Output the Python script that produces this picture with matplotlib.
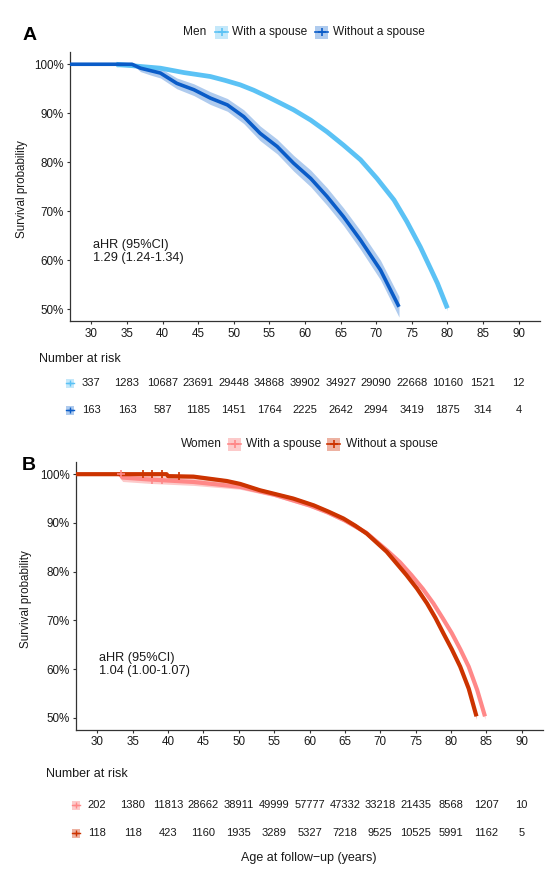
import matplotlib
matplotlib.use('Agg')
import matplotlib.pyplot as plt
from matplotlib.patches import Rectangle
from matplotlib.lines import Line2D
from matplotlib.ticker import FuncFormatter
import matplotlib.transforms as mtransforms

plt.rcParams['font.family'] = ['Liberation Sans', 'DejaVu Sans']

# ---------------- data ----------------
group_labels = ["With a spouse", "Without a spouse"]

# Men, with a spouse
ages_mw = [33.5, 35.0, 37.3, 39.7, 43.0, 46.7, 48.8, 50.9, 52.8, 54.7, 56.5, 58.4, 60.8, 63.1, 65.4, 67.8, 70.1, 72.5, 74.3, 76.2, 77.6, 78.6, 80.0]
surv_mw = [1.000, 0.998, 0.995, 0.992, 0.983, 0.975, 0.967, 0.958, 0.947, 0.934, 0.921, 0.907, 0.886, 0.862, 0.835, 0.805, 0.767, 0.723, 0.679, 0.627, 0.584, 0.553, 0.502]
ci_mw = [0.006, 0.004, 0.003, 0.003, 0.002, 0.002, 0.002, 0.002, 0.002, 0.002, 0.002, 0.002, 0.002, 0.002, 0.002, 0.002, 0.003, 0.003, 0.003, 0.003, 0.004, 0.004, 0.005]

# Men, without a spouse
ages_mo = [27.0, 35.7, 36.9, 38.3, 39.7, 42.0, 44.4, 46.7, 49.1, 51.4, 53.7, 56.1, 58.4, 60.8, 63.1, 65.4, 67.8, 70.6, 73.2]
surv_mo = [1.000, 1.000, 0.992, 0.987, 0.982, 0.961, 0.948, 0.931, 0.917, 0.893, 0.859, 0.832, 0.798, 0.767, 0.730, 0.689, 0.641, 0.580, 0.505]
ci_mo = [0.000, 0.000, 0.007, 0.009, 0.010, 0.011, 0.012, 0.013, 0.013, 0.014, 0.015, 0.015, 0.016, 0.017, 0.018, 0.018, 0.019, 0.020, 0.021]

# Women, with a spouse
ages_ww = [33.2, 33.6, 37.5, 43.6, 50.2, 55.0, 60.0, 62.5, 65.0, 68.0, 71.0, 72.8, 74.4, 76.0, 77.5, 78.8, 80.1, 81.3, 82.5, 83.7, 84.8]
surv_ww = [1.000, 0.993, 0.989, 0.984, 0.974, 0.958, 0.936, 0.922, 0.905, 0.880, 0.843, 0.819, 0.793, 0.765, 0.735, 0.705, 0.674, 0.641, 0.605, 0.557, 0.503]
ci_ww = [0.008, 0.008, 0.008, 0.007, 0.005, 0.004, 0.004, 0.004, 0.004, 0.004, 0.004, 0.004, 0.004, 0.004, 0.004, 0.005, 0.005, 0.005, 0.005, 0.006, 0.006]

# Women, without a spouse
ages_wo = [27.0, 39.8, 40.0, 43.6, 48.3, 50.2, 53.0, 57.7, 60.6, 62.7, 64.8, 66.5, 68.1, 70.9, 73.7, 75.2, 76.6, 77.8, 78.9, 80.1, 81.3, 82.5, 83.6]
surv_wo = [1.000, 1.000, 0.996, 0.995, 0.986, 0.980, 0.967, 0.950, 0.936, 0.923, 0.909, 0.894, 0.878, 0.841, 0.793, 0.765, 0.735, 0.705, 0.674, 0.641, 0.605, 0.560, 0.503]
ci_wo = [0.000, 0.000, 0.004, 0.004, 0.004, 0.004, 0.004, 0.004, 0.004, 0.004, 0.004, 0.004, 0.004, 0.004, 0.004, 0.005, 0.005, 0.005, 0.005, 0.005, 0.006, 0.006, 0.006]

# visible censor marks at the start of the women's curves
cens_ww_age = [33.4, 37.7, 39.1]
cens_ww_surv = [1.000, 0.989, 0.989]
cens_wo_age = [36.5, 37.7, 39.1, 41.5]
cens_wo_surv = [1.000, 1.000, 1.000, 0.996]

risk_times = [30, 35, 40, 45, 50, 55, 60, 65, 70, 75, 80, 85, 90]
risk_men_with = [337, 1283, 10687, 23691, 29448, 34868, 39902, 34927, 29090, 22668, 10160, 1521, 12]
risk_men_without = [163, 163, 587, 1185, 1451, 1764, 2225, 2642, 2994, 3419, 1875, 314, 4]
risk_women_with = [202, 1380, 11813, 28662, 38911, 49999, 57777, 47332, 33218, 21435, 8568, 1207, 10]
risk_women_without = [118, 118, 423, 1160, 1935, 3289, 5327, 7218, 9525, 10525, 5991, 1162, 5]

ahr_men = "aHR (95%CI)\n1.29 (1.24-1.34)"
ahr_women = "aHR (95%CI)\n1.04 (1.00-1.07)"

# ---------------- styling ----------------
C_MW, F_MW = '#5BC2F5', '#C4E8FA'
C_MO, F_MO = '#0A5CC8', '#AFCBEE'
C_WW, F_WW = '#FF8888', '#FCCACA'
C_WO, F_WO = '#CC3300', '#EDB2A2'
TXT = '#1a1a1a'
AX = '#333333'

W, H = 550, 869
fig = plt.figure(figsize=(5.5, 8.69), dpi=100)


def fx(x):
    return x / W


def fy(y):
    return 1 - y / H


def make_axes(left, right, top, bottom):
    ax = fig.add_axes([fx(left), fy(bottom), (right - left) / W, (bottom - top) / H])
    ax.set_xlim(27, 93)
    ax.set_ylim(0.475, 1.025)
    ax.set_xticks(risk_times)
    ax.set_yticks([0.5, 0.6, 0.7, 0.8, 0.9, 1.0])
    ax.yaxis.set_major_formatter(FuncFormatter(lambda v, p: f"{int(round(v * 100))}%"))
    for s in ['top', 'right']:
        ax.spines[s].set_visible(False)
    for s in ['left', 'bottom']:
        ax.spines[s].set_color(AX)
        ax.spines[s].set_linewidth(0.9)
    ax.tick_params(axis='both', length=2.5, width=0.8, color=AX, labelsize=8.4,
                   labelcolor=TXT, pad=2)
    return ax


def draw_curve(ax, ages, surv, ci, color, fill, lw):
    lo = [s - c for s, c in zip(surv, ci)]
    hi = [min(s + c, 1.0) for s, c in zip(surv, ci)]
    ax.fill_between(ages, lo, hi, color=fill, lw=0, zorder=1)
    ax.plot(ages, surv, color=color, lw=lw, solid_capstyle='butt',
            solid_joinstyle='round', zorder=3)


def legend_row(y, title, title_x, entries):
    fig.text(fx(title_x), fy(y), title, fontsize=8.6, color=TXT, ha='left', va='center')
    for (px, tx, label, lc, fc) in entries:
        w, h = 13, 13
        fig.add_artist(Rectangle((fx(px), fy(y + h / 2)), w / W, h / H,
                                 transform=fig.transFigure, facecolor=fc, edgecolor='none'))
        fig.add_artist(Line2D([fx(px), fx(px + w)], [fy(y), fy(y)], transform=fig.transFigure,
                              color=lc, lw=1.2))
        fig.add_artist(Line2D([fx(px + w / 2)], [fy(y)], transform=fig.transFigure,
                              color=lc, marker='+', markersize=6, mew=1.2, lw=0))
        fig.text(fx(tx), fy(y), label, fontsize=8.6, color=TXT, ha='left', va='center')


def risk_table(ax, title_x, title_y, rows, key_x):
    tr = mtransforms.blended_transform_factory(ax.transData, fig.transFigure)
    fig.text(fx(title_x), fy(title_y), "Number at risk", fontsize=9.0, color=TXT,
             ha='left', va='center')
    for (yy, values, lc, fc) in rows:
        w, h = 8, 9
        fig.add_artist(Rectangle((fx(key_x - w / 2), fy(yy + h / 2)), w / W, h / H,
                                 transform=fig.transFigure, facecolor=fc, edgecolor='none'))
        fig.add_artist(Line2D([fx(key_x - w / 2), fx(key_x + w / 2)], [fy(yy), fy(yy)],
                              transform=fig.transFigure, color=lc, lw=1.0))
        fig.add_artist(Line2D([fx(key_x)], [fy(yy)], transform=fig.transFigure,
                              color=lc, marker='+', markersize=4.5, mew=1.0, lw=0))
        for t, v in zip(risk_times, values):
            ax.text(t, fy(yy), str(v), transform=tr, fontsize=8.0, color=TXT,
                    ha='center', va='center', clip_on=False)


# ---------------- Panel A : men ----------------
axA = make_axes(70, 540, 52, 321.5)
draw_curve(axA, ages_mw, surv_mw, ci_mw, C_MW, F_MW, 3.4)
draw_curve(axA, ages_mo, surv_mo, ci_mo, C_MO, F_MO, 2.6)
axA.set_ylabel("Survival probability", fontsize=8.4, color=TXT)
axA.yaxis.set_label_coords((28 - 70) / 470, 0.49)
axA.text(0.05, 0.26, ahr_men, transform=axA.transAxes, fontsize=9.2, color=TXT,
         ha='left', va='center', linespacing=1.15)
fig.text(fx(23), fy(35), "A", fontsize=14, fontweight='bold', color='black', ha='left', va='center')
legend_row(32, "Men", 183, [(215, 232, group_labels[0], C_MW, F_MW),
                            (315, 333, group_labels[1], C_MO, F_MO)])
risk_table(axA, 39, 359, [(383, risk_men_with, C_MW, F_MW),
                          (410, risk_men_without, C_MO, F_MO)], key_x=70)

# ---------------- Panel B : women ----------------
axB = make_axes(76, 543, 462, 730)
draw_curve(axB, ages_ww, surv_ww, ci_ww, C_WW, F_WW, 3.0)
draw_curve(axB, ages_wo, surv_wo, ci_wo, C_WO, F_WO, 3.0)
axB.plot(cens_ww_age, cens_ww_surv, lw=0, marker='+', ms=6, mew=1.2, color=C_WW, zorder=4)
axB.plot(cens_wo_age, cens_wo_surv, lw=0, marker='+', ms=6, mew=1.2, color=C_WO, zorder=4)
axB.set_ylabel("Survival probability", fontsize=8.4, color=TXT)
axB.yaxis.set_label_coords((32 - 76) / 467, 0.49)
axB.text(0.05, 0.245, ahr_women, transform=axB.transAxes, fontsize=9.2, color=TXT,
         ha='left', va='center', linespacing=1.15)
fig.text(fx(22), fy(466), "B", fontsize=14, fontweight='bold', color='black', ha='left', va='center')
legend_row(444, "Women", 181, [(228, 246, group_labels[0], C_WW, F_WW),
                               (327, 346, group_labels[1], C_WO, F_WO)])
risk_table(axB, 46, 774, [(805, risk_women_with, C_WW, F_WW),
                          (833, risk_women_without, C_WO, F_WO)], key_x=76)

fig.text(fx(309), fy(858), "Age at follow\u2212up (years)", fontsize=9.0, color=TXT,
         ha='center', va='center')

fig.savefig('out.png', dpi=100, facecolor='white')
